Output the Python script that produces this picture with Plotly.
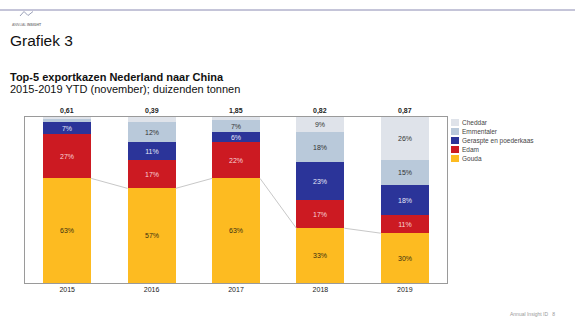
import plotly.graph_objects as go

years = ["2015", "2016", "2017", "2018", "2019"]
totals = ["0,61", "0,39", "1,85", "0,82", "0,87"]
gouda = [63, 57, 63, 33, 30]
edam = [27, 17, 22, 17, 11]
geraspte = [7, 11, 6, 23, 18]
emmentaler = [2, 12, 7, 18, 15]
cheddar = [1, 3, 2, 9, 26]

names = ["Gouda", "Edam", "Geraspte en poederkaas", "Emmentaler", "Cheddar"]
values = [gouda, edam, geraspte, emmentaler, cheddar]
colors = ["#fdbb21", "#cc1a22", "#2b3499", "#b9c9da", "#dfe3ea"]
text_colors = ["#3b2f10", "#f8d6d6", "#e6e8f8", "#333333", "#333333"]

W, H = 575, 325
L, R, T, B = 25, 128, 117, 42
PW, PH = W - L - R, H - T - B
FONT = "Liberation Sans, Arial, sans-serif"


def px(x):
    return (x - L) / PW


def py(y):
    return (H - B - y) / PH


xs = list(range(len(years)))
bw = 0.57

fig = go.Figure()
for name, vals, col, tc in zip(names, values, colors, text_colors):
    fig.add_trace(go.Bar(
        x=xs, y=vals, name=name, width=bw,
        marker=dict(color=col, line=dict(width=0)),
        text=[f"{v}%" if v >= 5 else "" for v in vals],
        textposition="inside", insidetextanchor="middle",
        textfont=dict(size=7, color=tc, family=FONT),
        constraintext="none", showlegend=False, hoverinfo="skip",
    ))

# connector lines between gouda tops
lx, ly = [], []
for i in range(len(years) - 1):
    lx += [xs[i] + bw / 2, xs[i + 1] - bw / 2, None]
    ly += [gouda[i], gouda[i + 1], None]
fig.add_trace(go.Scatter(x=lx, y=ly, mode="lines", line=dict(color="#c8c8c8", width=1),
                         showlegend=False, hoverinfo="skip"))

annotations = []
for i, t in enumerate(totals):
    annotations.append(dict(x=xs[i], y=100, xref="x", yref="y", text=f"<b>{t}</b>",
                            showarrow=False, yanchor="bottom", yshift=0,
                            font=dict(size=7, color="#222", family=FONT)))

shapes = []
# custom legend
leg_order = list(range(len(names)))[::-1]
for k, idx in enumerate(leg_order):
    yc = 122.5 + 9 * k
    shapes.append(dict(type="rect", xref="paper", yref="paper",
                       x0=px(451), x1=px(459), y0=py(yc + 3.5), y1=py(yc - 3.5),
                       fillcolor=colors[idx], line=dict(width=0)))
    annotations.append(dict(x=px(460), y=py(yc), xref="paper", yref="paper", text=names[idx],
                            showarrow=False, xanchor="left", yanchor="middle",
                            font=dict(size=6.5, color="#444", family=FONT)))

# header
shapes.append(dict(type="line", xref="paper", yref="paper", x0=px(0), x1=px(W), y0=py(10), y1=py(10),
                   line=dict(color="#8a8ab2", width=1)))
shapes.append(dict(type="path", xref="paper", yref="paper",
                   path=f"M {px(20)},{py(16)} L {px(24)},{py(11.5)} L {px(28)},{py(15.5)} L {px(33)},{py(11.5)}",
                   line=dict(color="#9aa0b8", width=1)))
annotations.append(dict(x=px(10), y=py(25), xref="paper", yref="paper", text="ANNUAL <b>INSIGHT</b>",
                        showarrow=False, xanchor="left", yanchor="middle",
                        font=dict(size=3.5, color="#777", family=FONT)))
annotations.append(dict(x=px(8), y=py(40), xref="paper", yref="paper", text="Grafiek 3",
                        showarrow=False, xanchor="left", yanchor="middle",
                        font=dict(size=15.5, color="#111", family=FONT)))
annotations.append(dict(x=px(8), y=py(77), xref="paper", yref="paper",
                        text="<b>Top-5 exportkazen Nederland naar China</b>",
                        showarrow=False, xanchor="left", yanchor="middle",
                        font=dict(size=11, color="#111", family=FONT)))
annotations.append(dict(x=px(8), y=py(89.5), xref="paper", yref="paper",
                        text="2015-2019 YTD (november); duizenden tonnen",
                        showarrow=False, xanchor="left", yanchor="middle",
                        font=dict(size=11, color="#111", family=FONT)))
annotations.append(dict(x=px(557), y=py(314), xref="paper", yref="paper",
                        text="Annual Insight ID   8",
                        showarrow=False, xanchor="right", yanchor="middle",
                        font=dict(size=5, color="#999", family=FONT)))

fig.update_layout(
    width=W, height=H, barmode="stack",
    margin=dict(l=L, r=R, t=T, b=B, pad=0),
    paper_bgcolor="white", plot_bgcolor="white",
    xaxis=dict(range=[-0.5, len(years) - 0.5], tickvals=xs, ticktext=years,
               showgrid=False, zeroline=False, showline=True, mirror=True,
               linecolor="#9a9a9a", linewidth=1, ticks="", ticklen=0,
               tickfont=dict(size=7, color="#222", family=FONT), fixedrange=True),
    yaxis=dict(range=[0, 100], showticklabels=False, showgrid=False, zeroline=False,
               showline=True, mirror=True, linecolor="#9a9a9a", linewidth=1, ticks=""),
    shapes=shapes, annotations=annotations, showlegend=False,
    bargap=0,
)

fig.write_html("out.html")
